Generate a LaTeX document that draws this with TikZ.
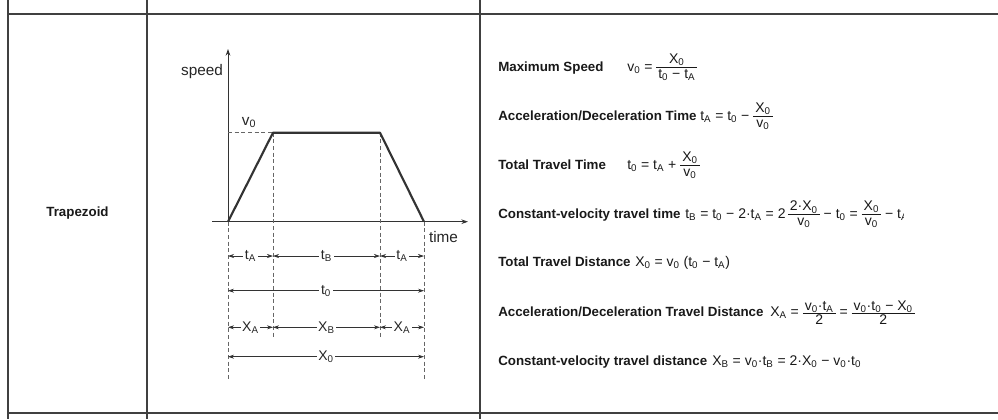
\documentclass[tikz,border=0pt]{standalone}
\usepackage{fontspec}
\setmainfont{Liberation Sans}
\usetikzlibrary{arrows.meta}
\newcommand\sub[1]{\textsubscript{#1}}
\newcommand\fr[2]{$\vcenter{\offinterlineskip\halign{\hfil\kern1.5pt##\kern1.5pt\hfil\cr \vphantom{X}#1\cr\noalign{\kern0.4pt\hrule height0.5pt\kern1pt}\vphantom{X}#2\cr}}$}
\begin{document}
\begin{tikzpicture}[x=0.75pt,y=-0.75pt,
  tbl/.style={draw=black!75,line width=0.9pt},
  curve/.style={draw=black!80,line width=1.6pt,line join=round},
  axis/.style={draw=black!80,line width=0.7pt,-{Stealth[length=5pt,width=3.5pt]}},
  guide/.style={draw=black!60,line width=0.6pt,dash pattern=on 3pt off 2pt},
  dim/.style={draw=black!80,line width=0.5pt,{Stealth[length=4.5pt,width=3pt]}-{Stealth[length=4.5pt,width=3pt]}},
  dimlab/.style={fill=white,inner sep=1.2pt,text=black!85,font=\fontsize{10.5}{12}\selectfont},
  glab/.style={font=\fontsize{11.5}{13}\selectfont,inner sep=0pt,text=black!85},
  head/.style={font=\fontsize{10}{12}\selectfont\bfseries,anchor=base west,inner sep=0pt,text=black!90},
  eq/.style={font=\fontsize{10.5}{12}\selectfont,anchor=base west,inner sep=0pt,text=black!90}]
\useasboundingbox (0,0) rectangle (998,419);
% table
\draw[tbl] (8,0) -- (8,419);
\draw[tbl] (147,0) -- (147,419);
\draw[tbl] (480,0) -- (480,419);
\draw[tbl] (8,14) -- (998,14);
\draw[tbl] (8,413) -- (998,413);
\node[font=\fontsize{10}{12}\selectfont\bfseries,text=black!90] (trap) at (77.5,213.3) {Trapezoid};
% graph
\coordinate (O) at (228,221.7);
\coordinate (P) at (273,132.7);
\coordinate (Q) at (380,132.7);
\coordinate (R) at (424,221.7);
\coordinate (V) at (228,132.7);
\coordinate (yt) at (228,49);
\coordinate (xl) at (212,221.7);
\coordinate (xr) at (468,221.7);
\coordinate (Ob) at (228,380);
\coordinate (Pb) at (273,338);
\coordinate (Qb) at (380,338);
\coordinate (Rb) at (424,380);
\draw[axis] (O) -- (yt);
\draw[axis] (xl) -- (xr);
\draw[guide] (V) -- (P);
\draw[guide] (O) -- (Ob);
\draw[guide] (R) -- (Rb);
\draw[guide] (P) -- (Pb);
\draw[guide] (Q) -- (Qb);
\draw[curve] (O) -- (P) -- (Q) -- (R);
\node[glab] (speed) at (202,72) {speed};
\node[glab] (v0) at (249,122.5) {v\sub0};
\node[glab] (time) at (443.5,237) {time};
% dimension rows
\coordinate (a1) at (228,256);   \coordinate (b1) at (273,256);
\coordinate (c1) at (380,256);   \coordinate (d1) at (424,256);
\coordinate (a2) at (228,290.7); \coordinate (d2) at (424,290.7);
\coordinate (a3) at (228,327.3); \coordinate (b3) at (273,327.3);
\coordinate (c3) at (380,327.3); \coordinate (d3) at (424,327.3);
\coordinate (a4) at (228,356.7); \coordinate (d4) at (424,356.7);
\draw[dim] (a1) -- node[dimlab] {t\sub A} (b1);
\draw[dim] (b1) -- node[dimlab] {t\sub B} (c1);
\draw[dim] (c1) -- node[dimlab] {t\sub A} (d1);
\draw[dim] (a2) -- node[dimlab] {t\sub0} (d2);
\draw[dim] (a3) -- node[dimlab] {X\sub A} (b3);
\draw[dim] (b3) -- node[dimlab] {X\sub B} (c3);
\draw[dim] (c3) -- node[dimlab] {X\sub A} (d3);
\draw[dim] (a4) -- node[dimlab] {X\sub0} (d4);
% formulas
\node[head] (h1) at (498,71) {Maximum Speed};
\node[eq] (e1) at (627,71) {v\sub0 =\ \fr{X\sub0}{t\sub0 − t\sub A}};
\node[head] (h2) at (498,120) {Acceleration/Deceleration Time};
\node[eq] (e2) at (700,120) {t\sub A = t\sub0 − \fr{X\sub0}{v\sub0}};
\node[head] (h3) at (498,169) {Total Travel Time};
\node[eq] (e3) at (627,169) {t\sub0 = t\sub A + \fr{X\sub0}{v\sub0}};
\node[head] (h4) at (498,218) {Constant-velocity travel time};
\begin{scope}
\clip (683,190) rectangle (903.5,245);
\node[eq] (e4) at (685,218) {t\sub B = t\sub0 − 2·t\sub A = 2\,\fr{2·X\sub0}{v\sub0} − t\sub0 = \fr{X\sub0}{v\sub0} − t\sub A};
\end{scope}
\node[head] (h5) at (498,266.5) {Total Travel Distance};
\node[eq] (e5) at (635,266.5) {X\sub0 = v\sub0 (t\sub0 − t\sub A)};
\node[head] (h6) at (498,316.5) {Acceleration/Deceleration Travel Distance};
\node[eq] (e6) at (770,316.5) {X\sub A = \fr{v\sub0·t\sub A}{2} = \fr{v\sub0·t\sub0 − X\sub0}{2}};
\node[head] (h7) at (498,365.5) {Constant-velocity travel distance};
\node[eq] (e7) at (712,365.5) {X\sub B = v\sub0·t\sub B = 2·X\sub0 − v\sub0·t\sub0};
\end{tikzpicture}
\end{document}
